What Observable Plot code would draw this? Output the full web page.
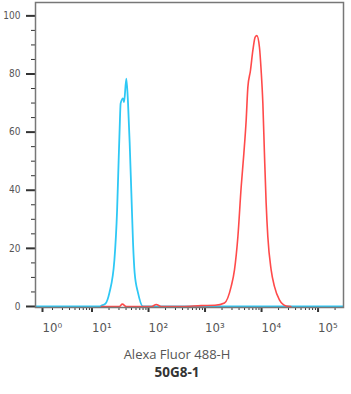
<!DOCTYPE html>
<html><head><meta charset="utf-8">
<script src="https://cdn.jsdelivr.net/npm/d3@7"></script>
<script src="https://cdn.jsdelivr.net/npm/@observablehq/plot@0.6"></script>
<style>
body{margin:0;background:#fff;width:351px;overflow:hidden;}
.cap{width:351px;text-align:center;font-family:"Open Sans",Lato,sans-serif;padding-left:3px;box-sizing:border-box;}
.t1{font-size:13px;color:#555;margin-top:0px;line-height:18px;}
.t2{font-size:13.5px;color:#333;font-weight:bold;line-height:18px;}
</style></head><body>
<div id="chart"></div>
<div class="cap t1">Alexa Fluor 488-H</div>
<div class="cap t2">50G8-1</div>
<script>
// Blue (control) histogram: fluorescence value and % of max
const blueX = [1, 13.5, 14.7, 17.3, 20.3, 24.9, 27.8, 29.6, 30.9, 32.1, 35.4, 36.9, 40.5, 43.4, 46.4, 49.7, 53.2, 56.8, 65.2, 80, 91, 282000];
const blueY = [0, 0, 0.3, 1, 4.7, 16.0, 33.2, 50.3, 61.7, 69.9, 71.6, 70.3, 78.4, 69.9, 56.2, 39.0, 21.9, 11.6, 4.7, 0, 0, 0];
// Red (stained) histogram
const redX = [14.7, 30.5, 34.4, 40.5, 60, 113, 137, 168, 400, 857, 1500, 2212, 2904, 3320, 3813, 4363, 4866, 5345, 5727, 6367, 7019, 7709, 8260, 9183, 9838, 10550, 11250, 12060, 12920, 14790, 16900, 20710, 27200, 33000];
const redY = [0, 0, 0.8, 0, 0, 0, 0.7, 0, 0, 0.3, 0.4, 1.2, 6.9, 12.6, 24.0, 41.2, 52.7, 64.1, 75.5, 81.2, 88.1, 92.7, 93.2, 89.2, 81.2, 69.9, 52.7, 35.6, 24.0, 12.6, 6.9, 2.3, 0.2, 0];

const yMajor = [0, 20, 40, 60, 80, 100];
const yMinor = [5, 10, 15, 25, 30, 35, 45, 50, 55, 65, 70, 75, 85, 90, 95];
const xDecades = [1, 10, 100, 1000, 10000, 100000];
const xDecadeLabels = ["10⁰", "10¹", "10²", "10³", "10⁴", "10⁵"];
const xMinor = xDecades.flatMap(d => [2,3,4,5,6,7,8,9].map(k => k * d)).filter(v => v < 282000);

const blue = blueX.map((x, i) => ({x, y: blueY[i]}));
const red = redX.map((x, i) => ({x, y: redY[i]}));
const lab = new Map(xDecades.map((d, i) => [d, xDecadeLabels[i]]));

const tickFont = "'Liberation Sans Narrow','DejaVu Sans Condensed','Liberation Sans',sans-serif";

const chart = Plot.plot({
  width: 351,
  height: 345,
  marginLeft: 35,
  marginRight: 8,
  marginTop: 2,
  marginBottom: 38,
  style: {fontFamily: tickFont, background: "#fff"},
  x: {type: "log", domain: [1, 282000], label: null},
  y: {domain: [-0.35, 104.6], label: null},
  marks: [
    Plot.axisY(yMinor, {tickSize: 4, tickFormat: () => "", stroke: "#333", strokeWidth: 1}),
    Plot.axisY(yMajor, {tickSize: 9, tickPadding: 6, strokeWidth: 2, stroke: "#333", fill: "#555", fontSize: 10}),
    Plot.axisX(xMinor, {tickSize: 3, tickFormat: () => "", stroke: "#333", strokeWidth: 1}),
    Plot.axisX(xDecades.slice(0, 1), {tickSize: 5, strokeWidth: 2, stroke: "#333", fill: "#555", tickPadding: 10, fontSize: 13, textAnchor: "start", dx: 7, tickFormat: d => lab.get(d)}),
    Plot.axisX(xDecades.slice(1), {tickSize: 5, strokeWidth: 2, stroke: "#333", fill: "#555", tickPadding: 10, fontSize: 13, textAnchor: "start", dx: 0, tickFormat: d => lab.get(d)}),
    Plot.line(blue, {x: "x", y: "y", stroke: "#2ec8f5", strokeWidth: 1.8, curve: "monotone-x", clip: true}),
    Plot.line(red, {x: "x", y: "y", stroke: "#ff4a4a", strokeWidth: 1.6, curve: "monotone-x", clip: true}),
    Plot.frame({stroke: "#777", strokeWidth: 1.5})
  ]
});
document.getElementById("chart").appendChild(chart);
</script>
</body></html>
